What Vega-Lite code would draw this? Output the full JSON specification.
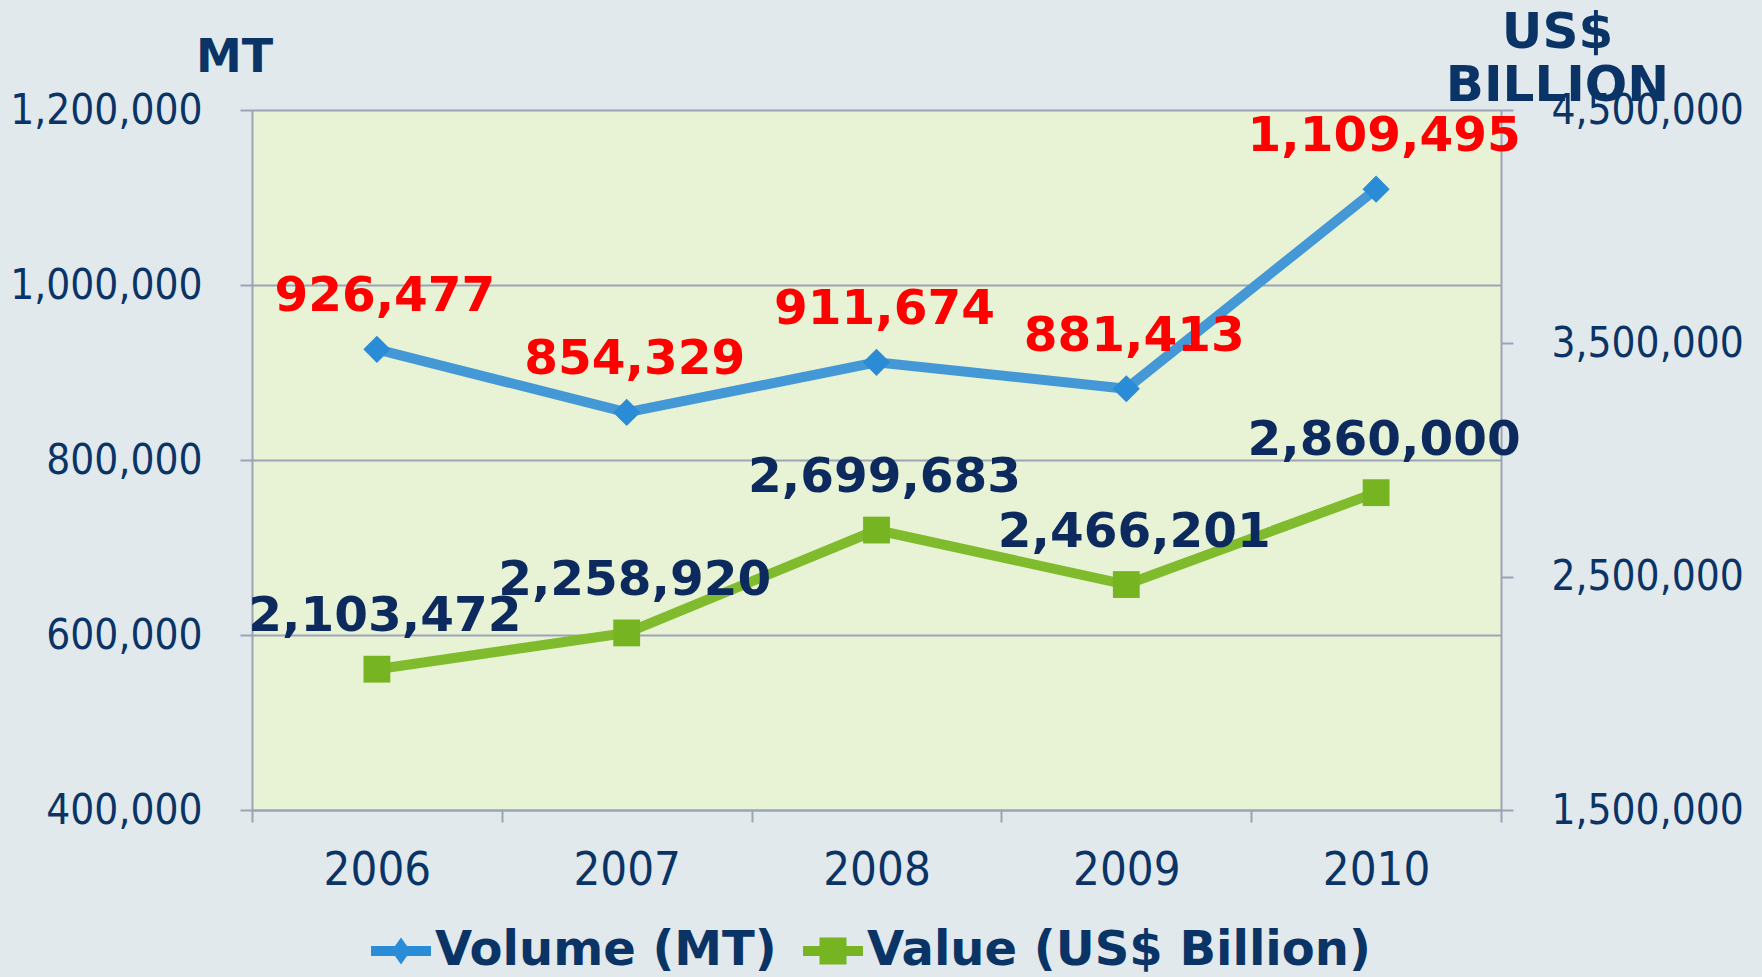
{
  "$schema": "https://vega.github.io/schema/vega-lite/v6.json",
  "width": 1249,
  "height": 700,
  "autosize": {"type": "none"},
  "padding": {"left": 252, "top": 110, "right": 261, "bottom": 167},
  "background": "#e2e9ed",
  "config": {
    "view": {"fill": "#e8f3d5", "stroke": null},
    "font": "DejaVu Sans"
  },
  "data": {
    "values": [
      {"year": "2006", "series": "Volume (MT)", "amount": 926477},
      {"year": "2007", "series": "Volume (MT)", "amount": 854329},
      {"year": "2008", "series": "Volume (MT)", "amount": 911674},
      {"year": "2009", "series": "Volume (MT)", "amount": 881413},
      {"year": "2010", "series": "Volume (MT)", "amount": 1109495},
      {"year": "2006", "series": "Value (US$ Billion)", "amount": 2103472},
      {"year": "2007", "series": "Value (US$ Billion)", "amount": 2258920},
      {"year": "2008", "series": "Value (US$ Billion)", "amount": 2699683},
      {"year": "2009", "series": "Value (US$ Billion)", "amount": 2466201},
      {"year": "2010", "series": "Value (US$ Billion)", "amount": 2860000}
    ]
  },
  "encoding": {
    "x": {
      "field": "year",
      "type": "ordinal",
      "scale": {"paddingInner": 0, "paddingOuter": 0},
      "axis": {
        "title": null,
        "labelAngle": 0,
        "labelFont": "DejaVu Sans Condensed",
        "labelFontSize": 47,
        "labelColor": "#0b3466",
        "labelPadding": 25,
        "labelLimit": 0,
        "tickBand": "extent",
        "tickSize": 12,
        "tickWidth": 2,
        "tickColor": "#9ca3b5",
        "domainColor": "#9ca3b5",
        "domainWidth": 2,
        "grid": false
      }
    }
  },
  "layer": [
    {
      "transform": [{"filter": "datum.series === 'Volume (MT)'"}],
      "encoding": {
        "y": {
          "field": "amount",
          "type": "quantitative",
          "scale": {"domain": [400000, 1200000], "nice": false, "zero": false},
          "axis": {
            "orient": "left",
            "values": [400000, 600000, 800000, 1000000, 1200000],
            "labelExpr": "format(datum.value, ',')",
            "labelFont": "DejaVu Sans Condensed",
            "labelFontSize": 42,
            "labelColor": "#0b3466",
            "labelPadding": 38,
            "labelLimit": 0,
            "tickSize": 12,
            "tickWidth": 2,
            "tickColor": "#9ca3b5",
            "domainColor": "#9ca3b5",
            "domainWidth": 2,
            "grid": true,
            "gridColor": "#9ca3b5",
            "gridWidth": 2,
            "gridOpacity": 1,
            "title": "MT",
            "titleAngle": 0,
            "titleAlign": "center",
            "titleBaseline": "alphabetic",
            "titleX": -18,
            "titleY": -39,
            "titleFont": "DejaVu Sans",
            "titleFontSize": 46,
            "titleFontWeight": "bold",
            "titleColor": "#0b3466"
          }
        }
      },
      "layer": [
        {"mark": {"type": "line", "color": "#4598d6", "strokeWidth": 10}},
        {
          "mark": {"type": "point", "shape": "diamond", "filled": true, "size": 740, "opacity": 1},
          "encoding": {
            "color": {
              "field": "series",
              "type": "nominal",
              "scale": {"domain": ["Volume (MT)", "Value (US$ Billion)"], "range": ["#2a8bd6", "#76b421"]},
              "legend": {
                "orient": "none",
                "direction": "horizontal",
                "legendX": 119,
                "legendY": 811,
                "title": null,
                "labelFont": "DejaVu Sans",
                "labelFontWeight": "bold",
                "labelFontSize": 48,
                "labelColor": "#0b3466",
                "labelLimit": 0,
                "labelOffset": 4,
                "columnPadding": 26,
                "symbolSize": 3600,
                "symbolStrokeWidth": 0,
                "symbolOpacity": 1,
                "encode": {
                  "symbols": {
                    "update": {
                      "shape": {"signal": "datum.value === 'Volume (MT)' ? 'M-1,-0.17L-0.2,-0.17L0,-0.45L0.2,-0.17L1,-0.17L1,0.17L0.2,0.17L0,0.45L-0.2,0.17L-1,0.17Z' : 'M-1,-0.17L-0.45,-0.17L-0.45,-0.45L0.45,-0.45L0.45,-0.17L1,-0.17L1,0.17L0.45,0.17L0.45,0.45L-0.45,0.45L-0.45,0.17L-1,0.17Z'"}
                    }
                  }
                }
              }
            }
          }
        },
        {
          "mark": {"type": "text", "font": "DejaVu Sans", "fontWeight": "bold", "fontSize": 48.5, "color": "#ff0000", "baseline": "middle", "dy": -53, "dx": 8},
          "encoding": {"text": {"field": "amount", "type": "quantitative", "format": ","}}
        }
      ]
    },
    {
      "transform": [{"filter": "datum.series === 'Value (US$ Billion)'"}],
      "encoding": {
        "y": {
          "field": "amount",
          "type": "quantitative",
          "scale": {"domain": [1500000, 4500000], "nice": false, "zero": false},
          "axis": {
            "orient": "right",
            "values": [1500000, 2500000, 3500000, 4500000],
            "labelExpr": "format(datum.value, ',')",
            "labelFont": "DejaVu Sans Condensed",
            "labelFontSize": 42,
            "labelColor": "#0b3466",
            "labelPadding": 38,
            "labelLimit": 0,
            "tickSize": 12,
            "tickWidth": 2,
            "tickColor": "#9ca3b5",
            "domainColor": "#9ca3b5",
            "domainWidth": 2,
            "grid": false,
            "title": ["US$", "BILLION"],
            "titleAngle": 0,
            "titleAlign": "center",
            "titleBaseline": "alphabetic",
            "titleLineHeight": 53,
            "titleX": 56,
            "titleY": -63,
            "titleFont": "DejaVu Sans",
            "titleFontSize": 50,
            "titleFontWeight": "bold",
            "titleColor": "#0b3466"
          }
        }
      },
      "layer": [
        {"mark": {"type": "line", "color": "#80bb2e", "strokeWidth": 10}},
        {
          "mark": {"type": "point", "shape": "square", "filled": true, "size": 720, "opacity": 1},
          "encoding": {
            "color": {
              "field": "series",
              "type": "nominal",
              "scale": {"domain": ["Volume (MT)", "Value (US$ Billion)"], "range": ["#2a8bd6", "#76b421"]},
              "legend": {
                "orient": "none",
                "direction": "horizontal",
                "legendX": 119,
                "legendY": 811,
                "title": null,
                "labelFont": "DejaVu Sans",
                "labelFontWeight": "bold",
                "labelFontSize": 48,
                "labelColor": "#0b3466",
                "labelLimit": 0,
                "labelOffset": 4,
                "columnPadding": 26,
                "symbolSize": 3600,
                "symbolStrokeWidth": 0,
                "symbolOpacity": 1,
                "encode": {
                  "symbols": {
                    "update": {
                      "shape": {"signal": "datum.value === 'Volume (MT)' ? 'M-1,-0.17L-0.2,-0.17L0,-0.45L0.2,-0.17L1,-0.17L1,0.17L0.2,0.17L0,0.45L-0.2,0.17L-1,0.17Z' : 'M-1,-0.17L-0.45,-0.17L-0.45,-0.45L0.45,-0.45L0.45,-0.17L1,-0.17L1,0.17L0.45,0.17L0.45,0.45L-0.45,0.45L-0.45,0.17L-1,0.17Z'"}
                    }
                  }
                }
              }
            }
          }
        },
        {
          "mark": {"type": "text", "font": "DejaVu Sans", "fontWeight": "bold", "fontSize": 48.5, "color": "#0d2a5e", "baseline": "middle", "dy": -53, "dx": 8},
          "encoding": {"text": {"field": "amount", "type": "quantitative", "format": ","}}
        }
      ]
    }
  ],
  "resolve": {"scale": {"y": "independent"}}
}
